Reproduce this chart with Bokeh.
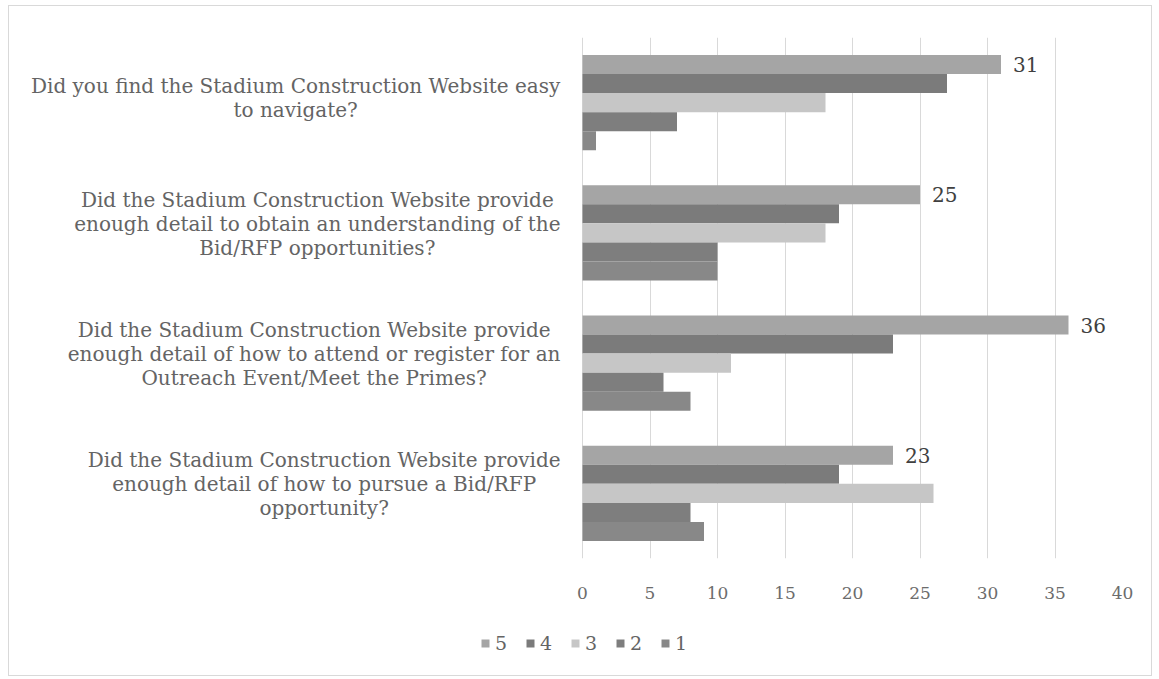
import numpy as np
from bokeh.plotting import figure
from bokeh.layouts import column
from bokeh.models import (ColumnDataSource, Range1d, FixedTicker, Legend, LegendItem)
from bokeh.core.properties import value
from bokeh.embed import file_html
from bokeh.resources import INLINE

# ---- data ----
questions = [
    "Did you find the Stadium Construction Website easy\nto navigate?",
    "Did the Stadium Construction Website provide\nenough detail to obtain an understanding of the\nBid/RFP opportunities?",
    "Did the Stadium Construction Website provide\nenough detail of how to attend or register for an\nOutreach Event/Meet the Primes?",
    "Did the Stadium Construction Website provide\nenough detail of how to pursue a Bid/RFP\nopportunity?",
]
series_names = ["5", "4", "3", "2", "1"]
s5 = [31, 25, 36, 23]
s4 = [27, 19, 23, 19]
s3 = [18, 18, 11, 26]
s2 = [7, 10, 6, 8]
s1 = [1, 10, 8, 9]
x_ticks = [0, 5, 10, 15, 20, 25, 30, 35, 40]

series_values = [s5, s4, s3, s2, s1]
colors = ["#a5a5a5", "#7b7b7b", "#c6c6c6", "#7e7e7e", "#888888"]

FONT = "DejaVu Serif"
TXT = "#646464"
TICK_TXT = "#6c6c6c"
LABEL_PX = 20

# rough DejaVu Serif advance widths (em) to centre each label block
_w = {" ": 0.318, "a": 0.596, "b": 0.640, "c": 0.560, "d": 0.640, "e": 0.592,
      "f": 0.370, "g": 0.640, "h": 0.644, "i": 0.320, "j": 0.310, "k": 0.606,
      "l": 0.320, "m": 0.948, "n": 0.644, "o": 0.602, "p": 0.640, "q": 0.640,
      "r": 0.478, "s": 0.513, "t": 0.402, "u": 0.644, "v": 0.565, "w": 0.856,
      "x": 0.564, "y": 0.565, "z": 0.527, "?": 0.536, "/": 0.337, "W": 1.03,
      "M": 0.995, "I": 0.365}


def text_w(s):
    return sum(_w.get(c, 0.72) for c in s) * LABEL_PX


# page-space layout (reference pixels) converted to the bordered box
OX, OY = 9, 6                      # box left/top inside its border
W = 1142                            # inner width
H_MAIN, H_LEG = 614, 55
zero_px = 582 - OX
frame_left = 10
frame_right = 1122 - OX
frame_top = 37 - OY
frame_bottom = 558 - OY
px_per_unit = (frame_right - zero_px) / 40.0
x_start = -(zero_px - frame_left) / px_per_unit

p = figure(width=W, height=H_MAIN, output_backend="svg", toolbar_location=None,
           x_range=Range1d(x_start, 40), y_range=Range1d(start=3.5, end=-0.5),
           y_axis_location=None, min_border_left=frame_left,
           min_border_right=W - frame_right, min_border_top=frame_top,
           min_border_bottom=H_MAIN - frame_bottom)
p.outline_line_color = None
p.background_fill_color = "white"
p.border_fill_color = "white"

p.xaxis.ticker = FixedTicker(ticks=x_ticks)
p.xaxis.axis_line_color = None
p.xaxis.major_tick_line_color = None
p.xaxis.minor_tick_line_color = None
p.xaxis.major_label_text_font = FONT
p.xaxis.major_label_text_font_size = "17px"
p.xaxis.major_label_text_color = TICK_TXT
p.xaxis.major_label_standoff = 22
p.xgrid.grid_line_color = "#d9d9d9"
p.xgrid.grid_line_width = 1
p.ygrid.grid_line_color = None

idx = np.arange(len(questions))
bar_h = 0.146
sources = []
for k, (vals, col) in enumerate(zip(series_values, colors)):
    src = ColumnDataSource(dict(y=idx + (k - 2) * bar_h, right=vals))
    sources.append(src)
    p.hbar(y="y", left=0, right="right", height=bar_h, source=src,
           fill_color=col, line_color=None)

# value labels for series "5"
lab_src = ColumnDataSource(dict(x=s5, y=idx - 2 * bar_h, t=[str(v) for v in s5]))
p.text(x="x", y="y", text="t", source=lab_src, x_offset=12,
       text_font=value(FONT), text_font_size="20px", text_color="#404040",
       text_align="left", text_baseline="middle")

# category labels (centered lines, block right edge near the axis)
right_px = 560 - OX
lx, ly_off = [], []
for q in questions:
    lines = q.split("\n")
    wmax = max(text_w(s) for s in lines)
    lx.append((right_px - wmax / 2 - zero_px) / px_per_unit)
    ly_off.append(-4.5 * (len(lines) - 1))
q_src = ColumnDataSource(dict(x=lx, y=idx, t=questions, yo=ly_off))
p.text(x="x", y="y", text="t", source=q_src, y_offset="yo",
       text_font=value(FONT), text_font_size=f"{LABEL_PX}px", text_color=TXT,
       text_align="center", text_baseline="middle", text_line_height=1.0)

# ---- legend strip (same series, drawn off-frame so only the legend shows) ----
pl = figure(width=W, height=H_LEG, output_backend="svg", toolbar_location=None,
            x_axis_location=None, y_axis_location=None,
            x_range=Range1d(0, 40), y_range=Range1d(100, 101),
            min_border=0)
pl.outline_line_color = None
pl.xgrid.grid_line_color = None
pl.ygrid.grid_line_color = None
pl.border_fill_color = "white"
items = []
for name, col, src in zip(series_names, colors, sources):
    r = pl.hbar(y="y", left=0, right="right", height=bar_h, source=src,
                fill_color=col, line_color=None)
    items.append(LegendItem(label=name, renderers=[r]))
leg_h = 30
legend = Legend(items=items, orientation="horizontal",
                location=(484 - OX - 14, H_LEG - (639 - OY - H_MAIN) - leg_h // 2),
                glyph_width=10, glyph_height=10, label_standoff=5, spacing=10,
                label_text_font=FONT, label_text_font_size="19px",
                label_text_color=TXT, border_line_color=None,
                background_fill_alpha=0, padding=4, margin=0)
pl.add_layout(legend, "center")

layout = column(p, pl, spacing=0)
layout.styles = {"border": "1px solid #d9d9d9", "margin-left": "8px",
                 "margin-top": "5px"}

open("out.html", "w").write(file_html(layout, INLINE))
